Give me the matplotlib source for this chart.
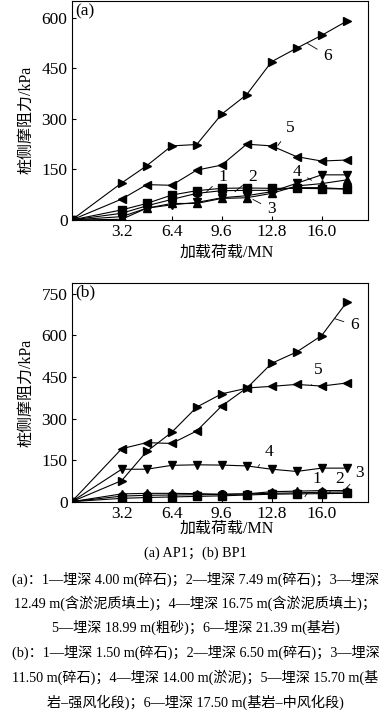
import matplotlib
matplotlib.use("Agg")
from matplotlib import pyplot as plt

plt.rcParams["font.family"] = ["Liberation Serif", "Noto Sans CJK SC"]
plt.rcParams["axes.unicode_minus"] = False

# 加载荷载 (MN)
load = [0, 3.2, 4.8, 6.4, 8.0, 9.6, 11.2, 12.8, 14.4, 16.0, 17.6]

# (a) AP1 桩侧摩阻力 (kPa)
a1 = [0, 30, 49, 74, 87, 94, 95, 94, 94, 93, 92]
a2 = [0, 20, 42, 61, 79, 87, 88, 88, 96, 96, 92]
a3 = [0, 10, 35, 49, 49, 64, 66, 79, 101, 108, 119]
a4 = [0, 2, 35, 45, 52, 66, 72, 84, 109, 134, 134]
a5 = [0, 62, 105, 103, 148, 163, 225, 220, 188, 175, 178]
a6 = [0, 110, 161, 220, 224, 314, 372, 470, 510, 548, 590]

# (b) BP1
b1 = [0, 12, 15, 17, 19, 21, 24, 27, 28, 29, 30]
b2 = [0, 20, 23, 24, 25, 26, 28, 30, 32, 34, 35]
b3 = [0, 28, 30, 30, 29, 27, 28, 36, 38, 40, 40]
b4 = [0, 117, 117, 131, 133, 132, 129, 117, 109, 121, 121]
b5 = [0, 191, 213, 210, 255, 345, 410, 416, 423, 417, 428]
b6 = [0, 76, 181, 250, 341, 389, 409, 499, 540, 599, 719]

markers = ["s", "o", "^", "v", "<", ">"]
xticks = [3.2, 6.4, 9.6, 12.8, 16.0]

# 曲线编号: (文字位置, 引线端点)
labels_a = [("1", (9.66, 128), (8.64, 84)),
            ("2", (11.6, 128), (10.45, 84)),
            ("3", (12.8, 32), (11.6, 61)),
            ("4", (14.4, 143), (15.36, 118)),
            ("5", (14.0, 272), (13.2, 221)),
            ("6", (16.4, 488), (15.1, 524))]
labels_b = [("1", (15.68, 81), (14.93, 18)),
            ("2", (17.17, 81), (16.42, 28)),
            ("3", (18.45, 102), (17.38, 36)),
            ("4", (12.65, 180), (11.94, 127)),
            ("5", (15.8, 476), (15.36, 423)),
            ("6", (18.13, 636), (16.85, 660))]

caption = ["(a) AP1；(b) BP1",
           "(a)：1—埋深 4.00 m(碎石)；2—埋深 7.49 m(碎石)；3—埋深",
           "12.49 m(含淤泥质填土)；4—埋深 16.75 m(含淤泥质填土)；",
           "5—埋深 18.99 m(粗砂)；6—埋深 21.39 m(基岩)",
           "(b)：1—埋深 1.50 m(碎石)；2—埋深 6.50 m(碎石)；3—埋深",
           "11.50 m(碎石)；4—埋深 14.00 m(淤泥)；5—埋深 15.70 m(基",
           "岩–强风化段)；6—埋深 17.50 m(基岩–中风化段)"]

fig = plt.figure(figsize=(3.91, 7.18), dpi=100)
ax_a = fig.add_axes([0.1834, 0.6936, 0.757, 0.305])
ax_b = fig.add_axes([0.1834, 0.3013, 0.757, 0.305])


def draw(ax, series, labels, ymax, yticks, tag, ylab_y, xlab_y):
    for s, m in zip(series, markers):
        ax.plot(load, s, color="black", lw=0.8, marker=m, markersize=5.5,
                markerfacecolor="black", markeredgecolor="black")
    for txt, pos, end in labels:
        ax.annotate(txt, xy=end, xytext=pos, fontsize=12.5, ha="center", va="center",
                    arrowprops=dict(arrowstyle="-", lw=0.6, color="black",
                                    shrinkA=3, shrinkB=0))
    ax.set_xlim(0, 18.95)
    ax.set_ylim(0, ymax)
    ax.set_xticks(xticks)
    ax.set_xticklabels(["%.1f" % v for v in xticks])
    ax.set_yticks(yticks)
    ax.tick_params(direction="in", length=3, width=0.8, labelsize=12.5, pad=3)
    for sp in ax.spines.values():
        sp.set_linewidth(0.8)
    ax.text(0.012, 0.99, tag, transform=ax.transAxes, fontsize=12.5, va="top", ha="left")
    ax.set_ylabel("桩侧摩阻力/kPa", fontsize=11.5)
    ax.yaxis.set_label_coords(-0.125, ylab_y)
    ax.set_xlabel("加载荷载/MN", fontsize=11.5)
    ax.xaxis.set_label_coords(0.525, xlab_y)


draw(ax_a, [a1, a2, a3, a4, a5, a6], labels_a, 650,
     [0, 150, 300, 450, 600], "(a)", 0.457, -0.115)
draw(ax_b, [b1, b2, b3, b4, b5, b6], labels_b, 790,
     [0, 150, 300, 450, 600, 750], "(b)", 0.496, -0.085)

ys = [553, 579, 603, 627, 652, 677, 702]
for line, y in zip(caption, ys):
    fig.text(0.5, 1 - y / 718, line, fontsize=10.2, ha="center", va="center")

fig.savefig("out.png", dpi=100)
